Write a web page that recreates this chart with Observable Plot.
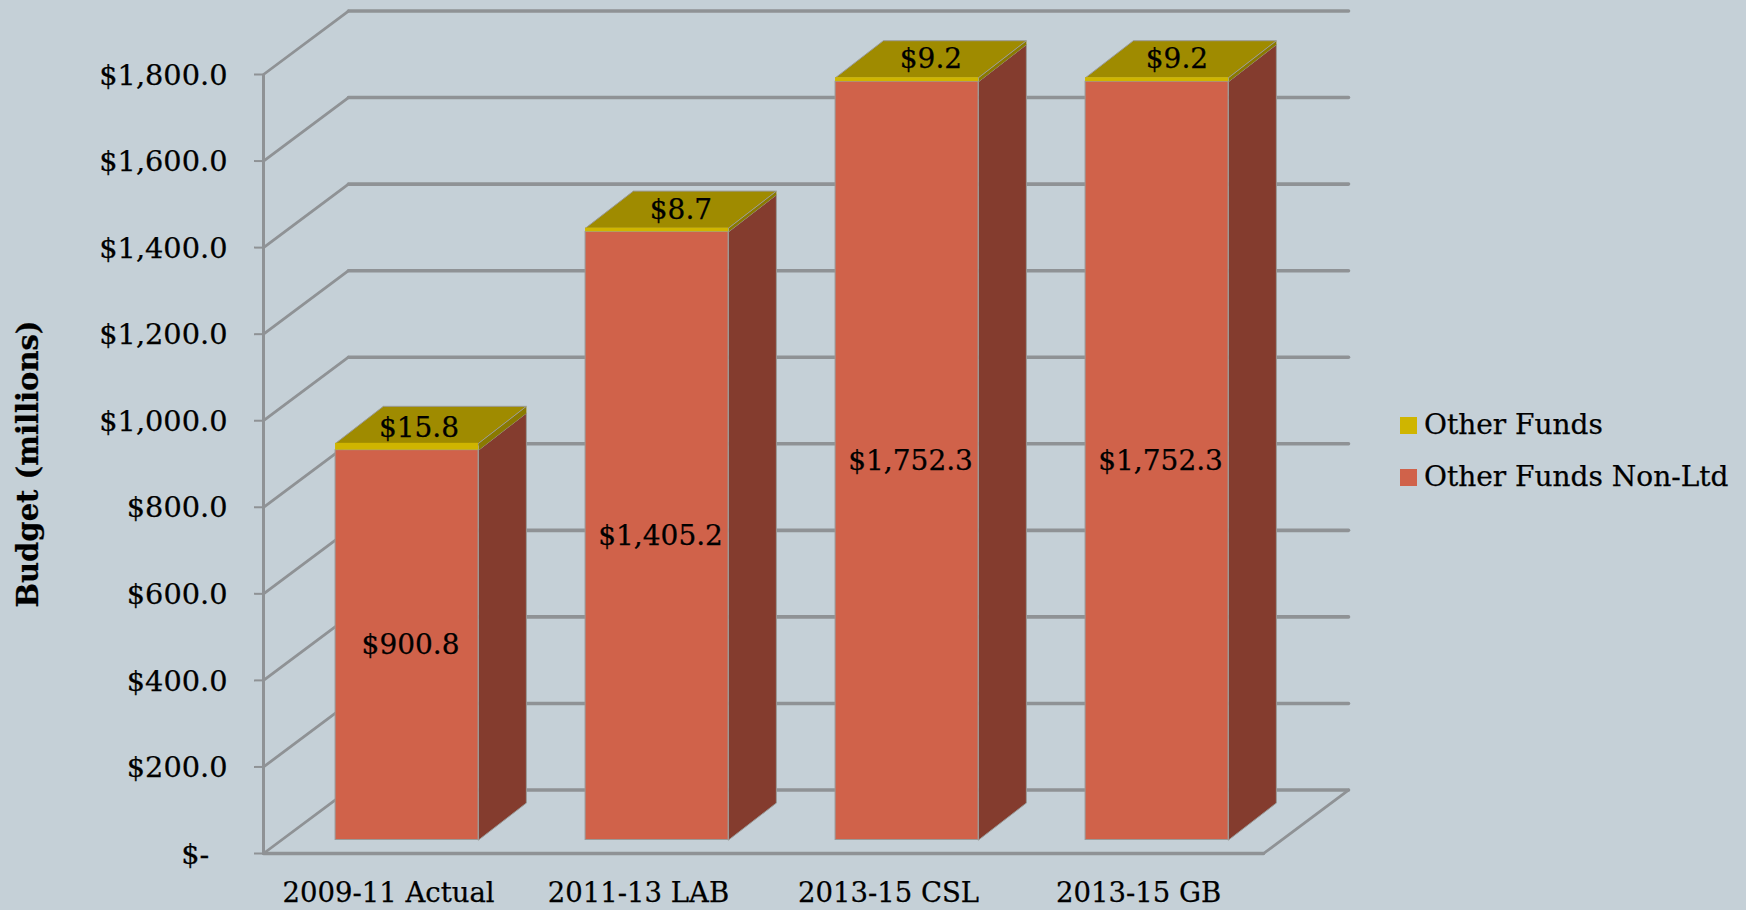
<!DOCTYPE html>
<html>
<head>
<meta charset="utf-8">
<script src="https://cdn.jsdelivr.net/npm/d3@7"></script>
<script src="https://cdn.jsdelivr.net/npm/@observablehq/plot@0.6"></script>
<style>
  html, body { margin: 0; padding: 0; background: #c5d0d7; overflow: hidden; }
  #wrap { position: relative; width: 1746px; height: 910px; font-family: "DejaVu Serif", serif; color: #000; }
  #wrap svg { display: block; }
  #wrap svg text { stroke: #000; stroke-width: 0.25px; }
  .lg { position: absolute; left: 1400px; display: flex; align-items: center; font-size: 28px; line-height: 34px; white-space: nowrap; -webkit-text-stroke: 0.25px #000; }
  .lg i { display: block; width: 17px; height: 17px; margin-right: 7px; }
</style>
</head>
<body>
<div id="wrap"></div>
<script>
const categories = ["2009-11 Actual", "2011-13 LAB", "2013-15 CSL", "2013-15 GB"];
const otherFundsNonLtd = [900.8, 1405.2, 1752.3, 1752.3];
const otherFunds = [15.8, 8.7, 9.2, 9.2];
const yTicks = [0, 200, 400, 600, 800, 1000, 1200, 1400, 1600, 1800];
const seriesNames = ["Other Funds", "Other Funds Non-Ltd"];

// Oblique projection of the 3-D chart box, in scale units
const depthX = 0.34, depthY = 146.7;
const zFront = 0.2126, zBackX = 0.775, zBackY = 0.795;
const barGap = 0.216, barWidth = 0.572;
const px = (i, z) => i + barGap + z * depthX;
const py = (v, z) => v + z * depthY;

// Colours
const grid = "#8f9295";
const cNon = "#d0624a", cNonSide = "#843c2e";
const cOther = "#cfb500", cOtherSide = "#8a7a00", cTop = "#9f8b00";
const edge = "#9a9a98";
const font = "DejaVu Serif";
const fs = 28;

// label nudges copied from the hand-placed labels of the reference
const topNudgeX = [-12, 0, 0, -4], topNudgeY = [3, 0, 0, 0];

const bars = categories.map((c, i) => ({
  i, c, non: otherFundsNonLtd[i], oth: otherFunds[i], total: otherFundsNonLtd[i] + otherFunds[i]
}));

function quad(key, pts) { return pts.map(([x, y]) => ({key, x, y})); }

const sideNon = bars.flatMap(b => quad("n" + b.i, [
  [px(b.i, zFront) + barWidth, py(0, zFront)],
  [px(b.i, zBackX) + barWidth, py(0, zBackY)],
  [px(b.i, zBackX) + barWidth, py(b.non, zBackY)],
  [px(b.i, zFront) + barWidth, py(b.non, zFront)]
]));
const sideOther = bars.flatMap(b => quad("o" + b.i, [
  [px(b.i, zFront) + barWidth, py(b.non, zFront)],
  [px(b.i, zBackX) + barWidth, py(b.non, zBackY)],
  [px(b.i, zBackX) + barWidth, py(b.total, zBackY)],
  [px(b.i, zFront) + barWidth, py(b.total, zFront)]
]));
const tops = bars.flatMap(b => quad("t" + b.i, [
  [px(b.i, zFront), py(b.total, zFront)],
  [px(b.i, zBackX), py(b.total, zBackY)],
  [px(b.i, zBackX) + barWidth, py(b.total, zBackY)],
  [px(b.i, zFront) + barWidth, py(b.total, zFront)]
]));

const diagonals = yTicks.flatMap(t => [
  {key: t, x: 0, y: t},
  {key: t, x: depthX, y: t + depthY}
]);
const backLines = yTicks.flatMap(t => [
  {key: t, x: depthX, y: t + depthY},
  {key: t, x: categories.length + depthX, y: t + depthY}
]);
const floorFront = [
  {x: 0, y: 0},
  {x: categories.length, y: 0}
];
const floorSide = [
  {x: categories.length, y: 0},
  {x: categories.length + depthX, y: depthY}
];

const chart = Plot.plot({
  width: 1746, height: 910,
  marginLeft: 263, marginRight: 483, marginTop: 74, marginBottom: 57,
  style: {background: "transparent", fontFamily: font, overflow: "visible"},
  x: {type: "linear", domain: [0, categories.length], axis: null},
  y: {domain: [0, 1800], axis: null},
  marks: [
    Plot.line(diagonals, {x: "x", y: "y", z: "key", stroke: grid, strokeWidth: 2.8}),
    Plot.line(backLines, {x: "x", y: "y", z: "key", stroke: grid, strokeWidth: 3.6}),
    Plot.line(floorFront, {x: "x", y: "y", stroke: grid, strokeWidth: 3.6}),
    Plot.line(floorSide, {x: "x", y: "y", stroke: grid, strokeWidth: 2.8}),
    Plot.ruleX([0], {y1: 0, y2: 1800, stroke: grid, strokeWidth: 3}),
    Plot.axisY({ticks: yTicks, tickSize: 9, strokeWidth: 2, stroke: grid, text: null, label: null}),
    Plot.axisY({
      ticks: yTicks, tickSize: 0, tickPadding: 36, dy: 1, color: "#000",
      fontSize: 28.8, label: null,
      tickFormat: d => d === 0 ? "$-\u00a0\u00a0" : "$" + d3.format(",.1f")(d)
    }),
    Plot.axisX({
      ticks: categories.map((c, i) => i + 0.5), tickSize: 0, tickPadding: 29, color: "#000",
      fontSize: 27.5, label: null,
      tickFormat: d => categories[d - 0.5]
    }),
    Plot.text(["Budget (millions)"], {
      text: d => d, frameAnchor: "left", textAnchor: "middle", y: () => 900, dx: -235, rotate: -90,
      fontSize: 29, fontWeight: "bold", fill: "#000"
    }),
    Plot.line(sideNon, {x: "x", y: "y", z: "key", fill: cNonSide, stroke: edge, strokeWidth: 1, curve: "linear-closed"}),
    Plot.line(sideOther, {x: "x", y: "y", z: "key", fill: cOtherSide, stroke: "none", curve: "linear-closed"}),
    Plot.line(tops, {x: "x", y: "y", z: "key", fill: cTop, stroke: edge, strokeWidth: 1, curve: "linear-closed"}),
    Plot.rect(bars, {
      x1: b => px(b.i, zFront), x2: b => px(b.i, zFront) + barWidth,
      y1: () => py(0, zFront), y2: b => py(b.non, zFront),
      fill: cNon, stroke: edge, strokeWidth: 1
    }),
    Plot.rect(bars, {
      x1: b => px(b.i, zFront), x2: b => px(b.i, zFront) + barWidth,
      y1: b => py(b.non, zFront), y2: b => py(b.total, zFront),
      fill: cOther
    }),
    Plot.text(bars, {
      x: b => px(b.i, zFront) + barWidth / 2, y: b => py(b.non / 2, zFront),
      text: b => "$" + d3.format(",.1f")(b.non), dx: 3.5, fontSize: fs, fill: "#000"
    }),
    ...bars.map(b => Plot.text([b], {
      x: d => (px(d.i, zFront) + px(d.i, zBackX)) / 2 + barWidth / 2,
      y: d => py(d.total, (zFront + zBackY) / 2),
      text: d => "$" + d3.format(",.1f")(d.oth),
      dx: topNudgeX[b.i], dy: topNudgeY[b.i], fontSize: fs, fill: "#000"
    }))
  ]
});

const wrap = document.getElementById("wrap");
wrap.appendChild(chart);
const legendColors = [cOther, cNon];
const legendTops = [408, 460];
seriesNames.forEach((name, i) => {
  const row = document.createElement("div");
  row.className = "lg";
  row.style.top = legendTops[i] + "px";
  const sw = document.createElement("i");
  sw.style.background = legendColors[i];
  row.appendChild(sw);
  row.appendChild(document.createTextNode(name));
  wrap.appendChild(row);
});
</script>
</body>
</html>
